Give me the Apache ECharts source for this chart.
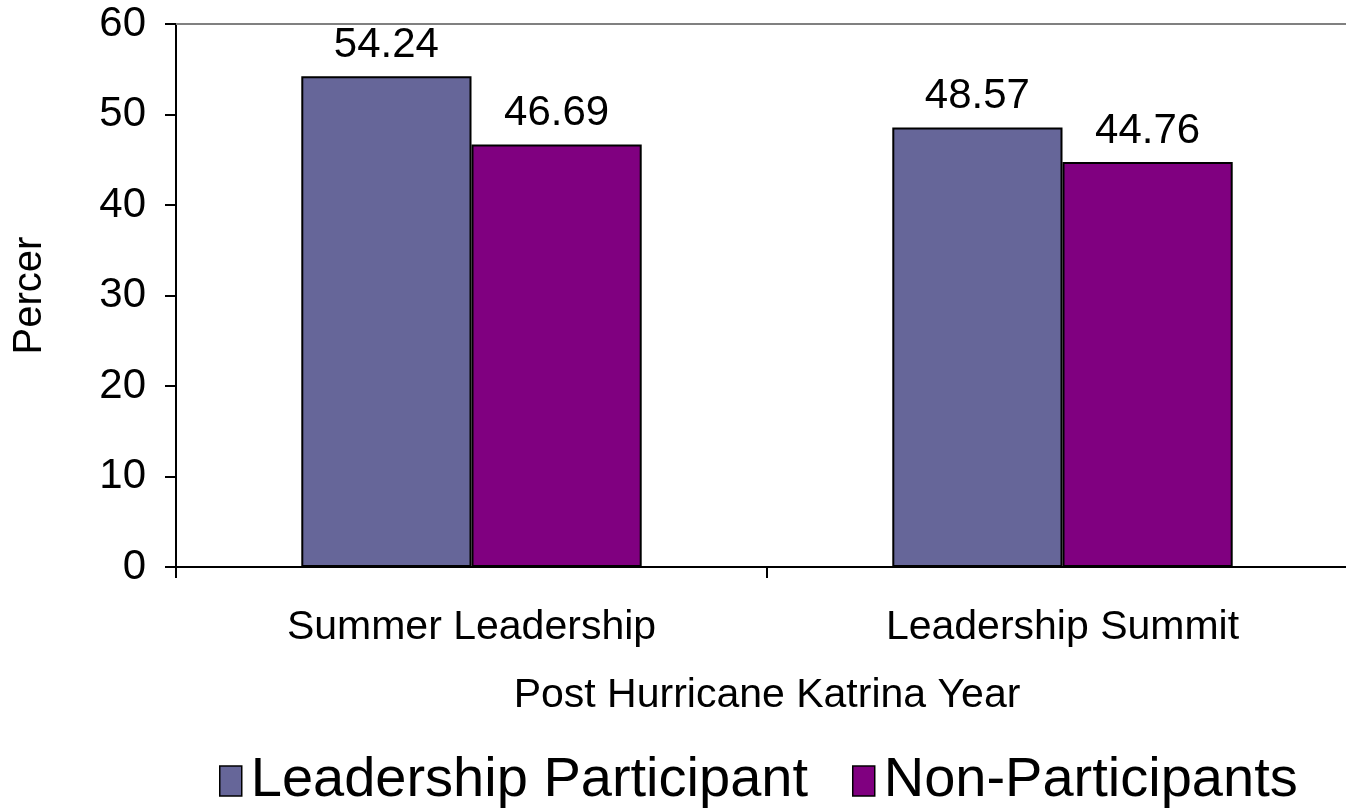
<!DOCTYPE html>
<html>
<head>
<meta charset="utf-8">
<script src="https://cdn.jsdelivr.net/npm/echarts@6/dist/echarts.min.js"></script>
<style>
  html, body { margin: 0; padding: 0; background: #fff; }
  #chart { width: 1346px; height: 809px; }
</style>
</head>
<body>
<div id="chart"></div>
<script>
// Programs compared across the two groups
const categories = ['Summer Leadership', 'Leadership Summit'];
const seriesNames = ['Leadership Participant', 'Non-Participants'];
const participantValues = [54.24, 48.57];
const nonParticipantValues = [46.69, 44.76];
const yTicks = { min: 0, max: 60, interval: 10 };

const FONT = '"Liberation Sans", Arial, sans-serif';

const chart = echarts.init(document.getElementById('chart'), null, { renderer: 'canvas' });

const barStyle = (color) => ({
  color: color,
  borderColor: '#000',
  borderWidth: 2
});

const valueLabel = {
  show: true,
  position: 'top',
  distance: 10,
  color: '#000',
  fontFamily: FONT,
  fontSize: 42,
  formatter: (p) => p.value.toFixed(2)
};

chart.setOption({
  animation: false,
  backgroundColor: '#fff',
  grid: {
    left: 176, right: -12, top: 24, bottom: 242,
    containLabel: false,
    outerBoundsMode: 'none'
  },
  legend: {
    bottom: -5,
    left: 214,
    icon: 'rect',
    itemWidth: 22,
    itemHeight: 30,
    itemGap: 44,
    textStyle: { fontFamily: FONT, fontSize: 56, color: '#000', padding: [0, 0, 0, 4] },
    data: seriesNames.map((n) => ({ name: n, itemStyle: { borderColor: '#000', borderWidth: 1.5 } }))
  },
  xAxis: [
    {
      type: 'category',
      data: categories,
      name: 'Post Hurricane Katrina Year',
      nameLocation: 'middle',
      nameGap: 108,
      nameTextStyle: { fontFamily: FONT, fontSize: 41, color: '#000' },
      axisLine: { lineStyle: { color: '#000', width: 2 } },
      axisTick: { show: true, length: 11, lineStyle: { color: '#000', width: 2 } },
      axisLabel: { margin: 40, fontFamily: FONT, fontSize: 41, color: '#000' },
      splitLine: { show: false }
    },
    {
      type: 'category',
      position: 'top',
      data: categories,
      axisLine: { show: true, lineStyle: { color: '#808080', width: 2 } },
      axisTick: { show: false },
      axisLabel: { show: false },
      splitLine: { show: false }
    }
  ],
  yAxis: {
    type: 'value',
    min: yTicks.min,
    max: yTicks.max,
    interval: yTicks.interval,
    name: 'Percer',
    nameLocation: 'middle',
    nameGap: 126,
    nameRotate: 90,
    nameTextStyle: { fontFamily: FONT, fontSize: 40, color: '#000' },
    axisLine: { show: true, lineStyle: { color: '#000', width: 2 } },
    axisTick: { show: true, length: 11, lineStyle: { color: '#000', width: 2 } },
    axisLabel: { margin: 30, fontFamily: FONT, fontSize: 42, color: '#000' },
    splitLine: { show: false }
  },
  series: [
    {
      name: seriesNames[0],
      type: 'bar',
      data: participantValues,
      barWidth: '28.8%',
      barGap: '0%',
      itemStyle: barStyle('#666699'),
      label: valueLabel
    },
    {
      name: seriesNames[1],
      type: 'bar',
      data: nonParticipantValues,
      barWidth: '28.8%',
      barGap: '0%',
      itemStyle: barStyle('#800080'),
      label: valueLabel
    }
  ]
});
</script>
</body>
</html>
